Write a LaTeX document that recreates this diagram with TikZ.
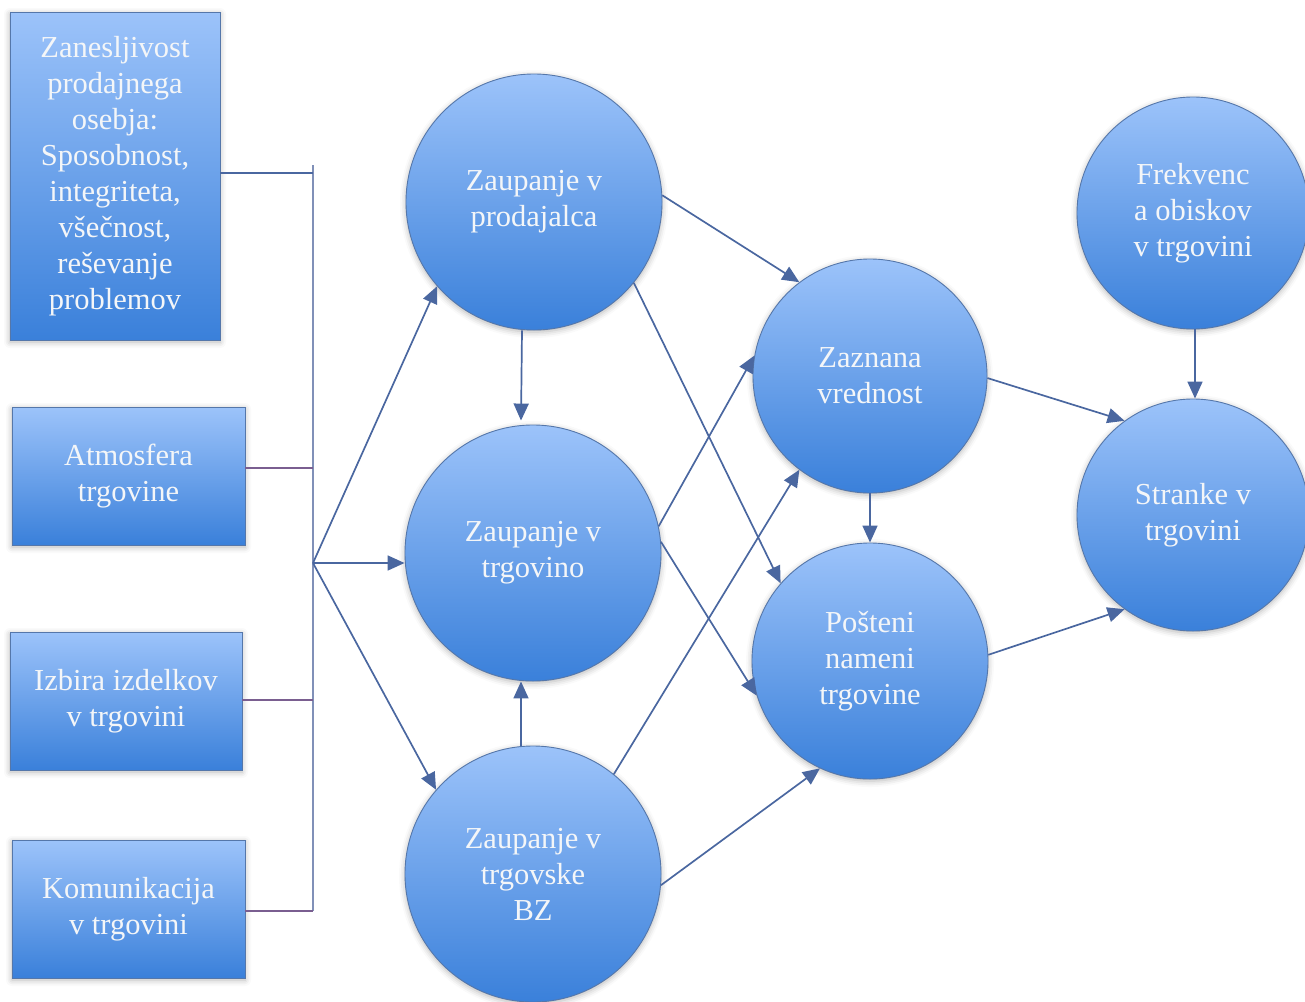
\documentclass[tikz,border=0pt]{standalone}
\usepackage{fontspec}
\setmainfont{Liberation Serif}
\usetikzlibrary{arrows.meta,shadows.blur}

\definecolor{fillTop}{HTML}{9CC3FA}
\definecolor{fillBot}{HTML}{3A80DA}
\definecolor{rimCol}{HTML}{5577AA}
\definecolor{txtCol}{HTML}{F4F6F8}
\definecolor{arrCol}{HTML}{4A67A0}
\definecolor{busCol}{HTML}{8090B8}
\definecolor{tieCol}{HTML}{7A5E90}

\tikzset{
  softshadow/.style={blur shadow={shadow xshift=0pt, shadow yshift=-2pt,
      shadow blur radius=6pt, shadow opacity=30}},
  factor/.style={draw=rimCol, line width=0.9pt, top color=fillTop, bottom color=fillBot,
      text=txtCol, align=center, inner sep=0pt, softshadow,
      font=\fontsize{30.5}{36}\selectfont},
  construct/.style={factor, circle},
  flow/.style={draw=arrCol, line width=1.7pt,
      -{Triangle[length=17pt,width=15pt]}},
  bus/.style={draw=busCol, line width=1.6pt},
  tie/.style={draw=tieCol, line width=1.2pt},
}

\begin{document}
\begin{tikzpicture}[x=1pt,y=-1pt]
\useasboundingbox (0,0) rectangle (1305,1001);

% antecedent boxes
\node[factor, minimum width=210, minimum height=328] (box1) at (115,176)
  {Zanesljivost\\prodajnega\\osebja:\\Sposobnost,\\integriteta,\\všečnost,\\reševanje\\problemov};
\node[factor, minimum width=233, minimum height=138] (box2) at (128.5,476)
  {Atmosfera\\trgovine};
\node[factor, minimum width=232, minimum height=138] (box3) at (126,701)
  {Izbira izdelkov\\v trgovini};
\node[factor, minimum width=233, minimum height=138] (box4) at (128.5,909)
  {Komunikacija\\v trgovini};

% trust and outcome constructs
\node[construct, minimum size=256] (c1) at (534,202) {Zaupanje v\\prodajalca};
\node[construct, minimum size=256] (c2) at (533,553) {Zaupanje v\\trgovino};
\node[construct, minimum size=256] (c3) at (533,874) {Zaupanje v\\trgovske\\BZ};
\node[construct, minimum size=234] (c4) at (870,376) {Zaznana\\vrednost};
\node[construct, minimum size=236] (c5) at (870,661) {Pošteni\\nameni\\trgovine};
\node[construct, minimum size=232] (c6) at (1193,213) {Frekvenc\\a obiskov\\v trgovini};
\node[construct, minimum size=232] (c7) at (1193,515) {Stranke v\\trgovini};

% collecting bus on the left
\coordinate (bTop) at (313,165);
\coordinate (b1) at (313,173);
\coordinate (b2) at (313,468);
\coordinate (b3) at (313,700);
\coordinate (b4) at (313,911);
\coordinate (jn) at (313,563);

\draw[bus] (bTop) -- (b4);
\draw[tie, draw=arrCol] (box1.east |- b1) -- (b1);
\draw[tie] (box2.east |- b2) -- (b2);
\draw[tie] (box3.east |- b3) -- (b3);
\draw[tie] (box4.east |- b4) -- (b4);

\draw[flow] (jn) -- (c1.-139);
\draw[flow] (jn) -- (c2.west |- jn);
\draw[flow] (jn) -- (c3.139);

% trust links
\draw[flow] ([xshift=-12pt]c1.south) -- ([xshift=-12pt,yshift=4pt]c2.north);
\draw[flow] ([xshift=-12pt]c3.north) -- ([xshift=-12pt]c2.south);

\draw[flow] (c1.3) -- (c4.127);
\draw[flow] (c1.-39) -- (c5.139);
\draw[flow] (c2.12) -- (c4.170);
\draw[flow] (c2.5) -- (c5.-163);
\draw[flow] (c3.51) -- (c4.-127);
\draw[flow] (c3.-5) -- (c5.-115);

% outcome links
\draw[flow] (c4.south) -- (c5.north);
\draw[flow] (c4.-1) -- (c7.126);
\draw[flow] (c5.3) -- (c7.-126);
\draw[flow] ([xshift=2pt]c6.south) -- ([xshift=2pt]c7.north);
\end{tikzpicture}
\end{document}
